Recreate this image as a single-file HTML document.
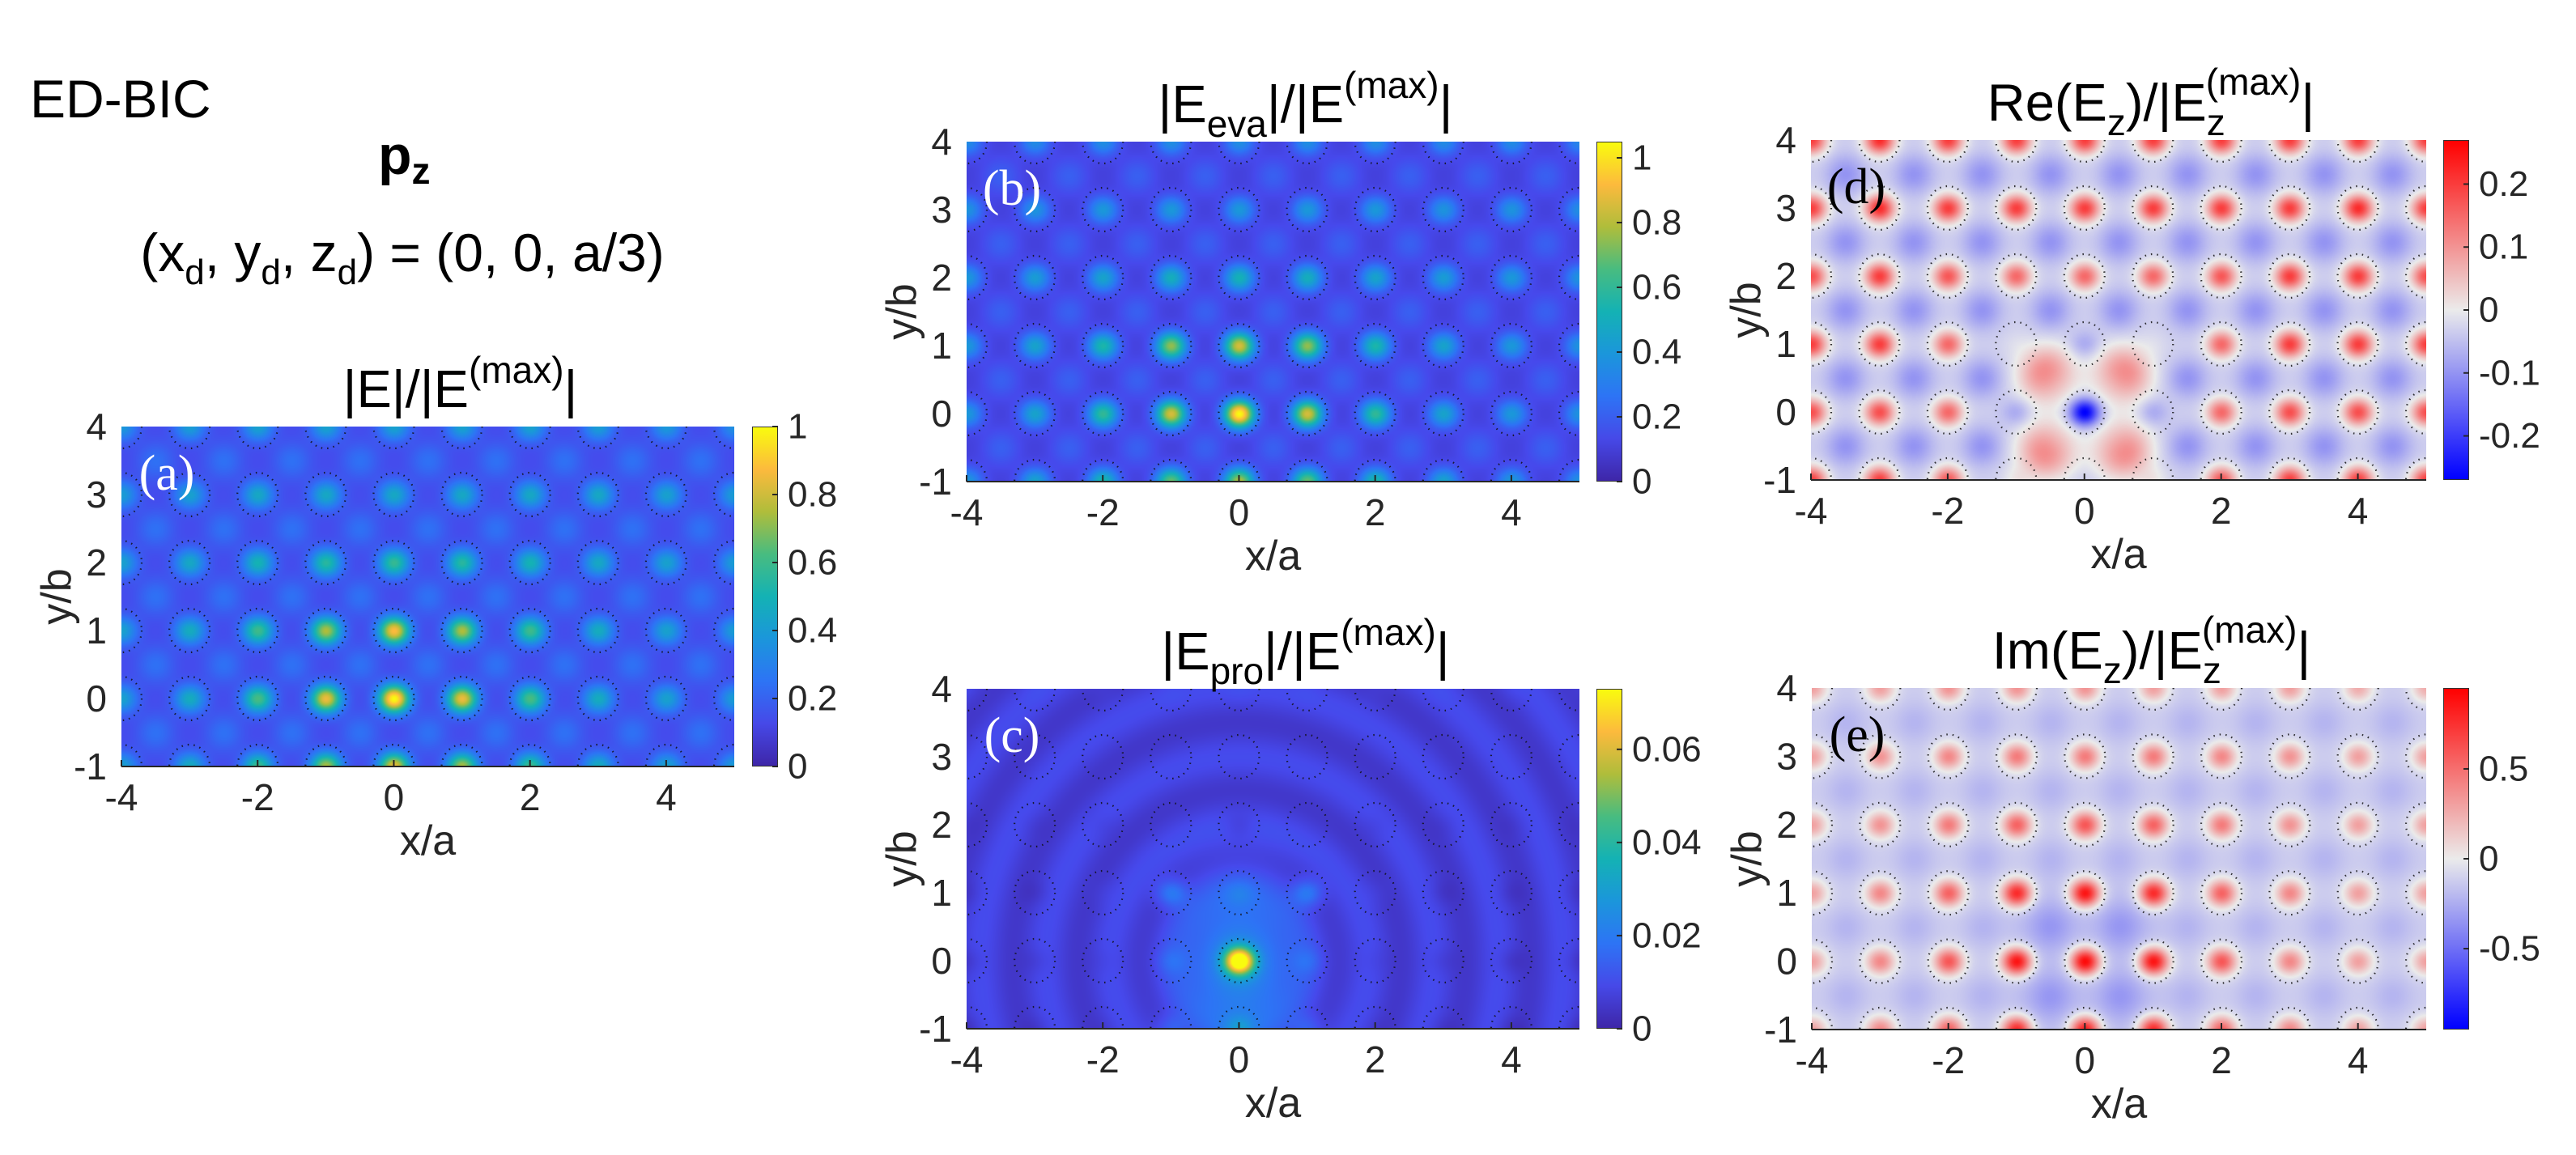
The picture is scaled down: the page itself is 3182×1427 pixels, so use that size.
<!DOCTYPE html>
<html><head><meta charset="utf-8">
<style>
html,body{margin:0;padding:0;background:#fff;}
#root{position:relative;width:3182px;height:1427px;overflow:hidden;background:#fff;font-family:"Liberation Sans","DejaVu Sans",sans-serif;}
canvas{position:absolute;}
.cb{position:absolute;border:1px solid #333;box-sizing:border-box;}
svg{position:absolute;left:0;top:0;}
</style></head>
<body>
<div id="root">
<canvas id="ca"></canvas>
<canvas id="cbb"></canvas>
<canvas id="cc"></canvas>
<canvas id="cd"></canvas>
<canvas id="ce"></canvas>
<div class="cb" style="left:929px;top:527px;width:32px;height:420px;background:linear-gradient(to top,#3E26A8,#4649E8 12.5%,#2D74F5 25%,#1B96DB 37.5%,#14B2B4 50%,#48BC80 62.5%,#AFBD3B 75%,#FCBA3D 87.5%,#F9FB0E)"></div>
<div class="cb" style="left:1972px;top:175px;width:32px;height:420px;background:linear-gradient(to top,#3E26A8,#4649E8 12.5%,#2D74F5 25%,#1B96DB 37.5%,#14B2B4 50%,#48BC80 62.5%,#AFBD3B 75%,#FCBA3D 87.5%,#F9FB0E)"></div>
<div class="cb" style="left:1972px;top:851px;width:32px;height:420px;background:linear-gradient(to top,#3E26A8,#4649E8 12.5%,#2D74F5 25%,#1B96DB 37.5%,#14B2B4 50%,#48BC80 62.5%,#AFBD3B 75%,#FCBA3D 87.5%,#F9FB0E)"></div>
<div class="cb" style="left:3018px;top:173px;width:32px;height:420px;background:linear-gradient(to top,#0000ff,#ebebeb 50%,#ff0000)"></div>
<div class="cb" style="left:3018px;top:850px;width:32px;height:422px;background:linear-gradient(to top,#0000ff,#ebebeb 50%,#ff0000)"></div>
<svg id="ov" width="3182" height="1427"></svg>
</div>
<script>
// ---- data: site amplitudes, rows y=-1..4, cols x=-4..5 ----
const xTicks=[-4,-2,0,2,4];
const yTicks=[-1,0,1,2,3,4];
const sitesA=[
[.42,.47,.6,.75,.85,.75,.6,.47,.42,.4],
[.42,.47,.62,.85,1.0,.85,.62,.47,.42,.4],
[.42,.47,.6,.75,.88,.75,.6,.47,.42,.4],
[.42,.45,.5,.55,.58,.55,.5,.45,.42,.4],
[.4,.42,.45,.45,.45,.45,.45,.45,.42,.4],
[.38,.4,.42,.42,.42,.42,.42,.4,.38,.35]];
const sitesB=[
[.4,.45,.55,.7,.8,.7,.55,.45,.4,.38],
[.4,.45,.6,.85,1.05,.85,.6,.45,.4,.38],
[.4,.45,.55,.75,.85,.75,.55,.45,.4,.38],
[.4,.42,.45,.5,.52,.5,.45,.42,.4,.38],
[.38,.38,.4,.4,.4,.4,.4,.38,.38,.36],
[.35,.35,.36,.36,.36,.36,.36,.35,.35,.33]];
const sitesC=[
[.004,.005,.006,.014,.018,.014,.006,.005,.004,.004],
[.004,.005,.006,.012,.072,.012,.006,.005,.004,.004],
[.005,.005,.008,.02,.012,.02,.008,.005,.005,.005],
[.006,.006,.006,.007,.004,.007,.006,.006,.006,.006],
[.007,.007,.007,.007,.007,.007,.007,.007,.007,.007],
[.008,.008,.008,.008,.008,.008,.008,.008,.008,.008]];
const sitesD=[
[.2,.2,.17,.0,-.04,.0,.17,.2,.2,.2],
[.18,.18,.15,-.08,-.28,-.08,.15,.18,.18,.18],
[.2,.2,.15,-.02,-.08,-.02,.15,.2,.2,.2],
[.18,.2,.17,.15,.15,.15,.17,.2,.2,.18],
[.2,.22,.2,.2,.2,.2,.2,.2,.22,.2],
[.2,.22,.2,.2,.2,.2,.2,.2,.2,.2]];
const sitesE=[
[.3,.4,.55,.8,.85,.8,.55,.4,.3,.3],
[.3,.4,.6,.9,.95,.9,.6,.4,.3,.3],
[.3,.4,.55,.8,.9,.8,.55,.4,.3,.3],
[.3,.35,.45,.55,.6,.55,.45,.35,.3,.3],
[.3,.35,.4,.45,.45,.45,.4,.35,.3,.3],
[.3,.3,.35,.35,.35,.3,.3,.3,.25,.25]];
const ticksA=[0,0.2,0.4,0.6,0.8,1], ticksB=[0,0.2,0.4,0.6,0.8,1], ticksC=[0,0.02,0.04,0.06], ticksD=[-0.2,-0.1,0,0.1,0.2], ticksE=[-0.5,0,0.5];

const panels=[
 {c:'ca',x:150,y:527,w:757,h:420,sites:sitesA,bg:.12,mid:.24,vmin:0,vmax:1,cm:'p',sig:.16,title:['|E|/|E','(max)','|'],lab:'(a)',lc:'#fff',cb:{x:929,t:ticksA}},
 {c:'cbb',x:1194,y:175,w:757,h:420,sites:sitesB,bg:.09,mid:.2,vmin:0,vmax:1.05,cm:'p',sig:.16,title:['|E','eva','|/|E','(max)','|'],lab:'(b)',lc:'#fff',cb:{x:1972,t:ticksB}},
 {c:'cc',x:1194,y:851,w:757,h:420,sites:sitesC,bg:.007,mid:.007,vmin:0,vmax:.073,cm:'p',sig:.15,title:['|E','pro','|/|E','(max)','|'],lab:'(c)',lc:'#fff',cb:{x:1972,t:ticksC},rings:true},
 {c:'cd',x:2237,y:173,w:760,h:420,sites:sitesD,bg:-.03,mid:-.1,vmin:-.27,vmax:.27,cm:'d',sig:.15,title:['Re(E','z',')/|E','z','(max)','|'],lab:'(d)',lc:'#000',cb:{x:3018,t:ticksD},lobes:.2,lsig:.26},
 {c:'ce',x:2238,y:850,w:759,h:422,sites:sitesE,bg:-.12,mid:-.22,vmin:-.95,vmax:.95,cm:'d',sig:.15,title:['Im(E','z',')/|E','z','(max)','|'],lab:'(e)',lc:'#000',cb:{x:3018,t:ticksE},lobes:-.12,lsig:.35}
];
const par=[[0,62,38,168],[.125,70,73,236],[.25,45,116,245],[.375,27,150,219],[.5,20,178,180],[.625,72,188,128],[.75,175,189,59],[.875,252,186,61],[1,249,251,14]];
function parula(t){t=Math.max(0,Math.min(1,t));for(let i=1;i<par.length;i++){if(t<=par[i][0]){const a=par[i-1],b=par[i],f=(t-a[0])/(b[0]-a[0]);return [a[1]+(b[1]-a[1])*f,a[2]+(b[2]-a[2])*f,a[3]+(b[3]-a[3])*f];}}return [249,251,14];}
function div(t){t=Math.max(0,Math.min(1,t));if(t<.5){const f=t/.5;return [0+235*f,0+235*f,255-20*f];}const f=(t-.5)/.5;return [235+20*f,235-235*f,235-235*f];}

panels.forEach(p=>{
 const cv=document.getElementById(p.c);cv.width=p.w;cv.height=p.h;cv.style.left=p.x+'px';cv.style.top=p.y+'px';
 const ctx=cv.getContext('2d'),im=ctx.createImageData(p.w,p.h),d=im.data;
 const s2=2*p.sig*p.sig, m2=2*0.2*0.2;
 for(let py=0;py<p.h;py++){const uy=4-py/p.h*5;
  for(let px=0;px<p.w;px++){const ux=-4+px/p.w*9;
   let v=p.bg;
   const ix=Math.round(ux),iy=Math.round(uy);
   for(let dx=-1;dx<=1;dx++)for(let dy=-1;dy<=1;dy++){
     const sx=ix+dx,sy=iy+dy;
     if(sx>=-4&&sx<=5&&sy>=-1&&sy<=4){const r2=(ux-sx)**2+((uy-sy)*1.1)**2;v+=(p.sites[sy+1][sx+4]-p.bg)*Math.exp(-r2/s2);}
     const mx=Math.floor(ux)+0.5+dx,my=Math.floor(uy)+0.5+dy;
     const q2=(ux-mx)**2+(uy-my)**2;v+=(p.mid-p.bg)*Math.exp(-q2/m2);
   }
   if(p.rings){const r=Math.sqrt(ux*ux+uy*uy*0.9);v+=0.017*Math.exp(-(ux*ux/0.7+(uy+0.1)*(uy+0.1)/1.6))+0.0025*Math.cos(r*2*Math.PI/0.95)*Math.min(1,r/1.2);}
   if(p.lobes){const ls=2*p.lsig*p.lsig;for(const [lx,ly] of [[-.55,.55],[.55,.55],[-.55,-.55],[.55,-.55]]){v+=p.lobes*Math.exp(-((ux-lx)**2+(uy-ly)**2)/ls);}}
   const t=(v-p.vmin)/(p.vmax-p.vmin);
   const c=p.cm==='p'?parula(t):div(t);const k=(py*p.w+px)*4;
   d[k]=c[0];d[k+1]=c[1];d[k+2]=c[2];d[k+3]=255;
  }}
 ctx.putImageData(im,0,0);
});

const NS='http://www.w3.org/2000/svg',ov=document.getElementById('ov');
function mk(tag,at,parent){const e=document.createElementNS(NS,tag);for(const k in at)e.setAttribute(k,at[k]);(parent||ov).appendChild(e);return e;}
function txt(x,y,s,size,extra){const t=mk('text',Object.assign({x:x,y:y,'font-size':size,'text-anchor':'middle','dominant-baseline':'central',fill:'#262626','font-family':'Liberation Sans, DejaVu Sans, sans-serif'},extra||{}));t.textContent=s;return t;}

panels.forEach((p,pi)=>{
 const sx=v=>p.x+(v+4)/9*p.w, sy=v=>p.y+(4-v)/5*p.h;
 const g=mk('g',{});
 
 
 const cp=mk('clipPath',{id:'cl'+pi},g);mk('rect',{x:p.x,y:p.y,width:p.w,height:p.h},cp);
 const cg=mk('g',{'clip-path':'url(#cl'+pi+')'},g);
 for(let yy=-1;yy<=4;yy++)for(let xx=-4;xx<=5;xx++){
  const c=mk('ellipse',{cx:sx(xx),cy:sy(yy),rx:25,ry:27,fill:'none',stroke:'#111','stroke-width':2.2,'stroke-dasharray':'1.5 6','stroke-opacity':.85},cg);
  
  
 }
 mk('line',{x1:p.x,y1:p.y+p.h,x2:p.x+p.w,y2:p.y+p.h,stroke:'#262626','stroke-width':2},g);
 xTicks.forEach(v=>{mk('line',{x1:sx(v),y1:p.y+p.h,x2:sx(v),y2:p.y+p.h-8,stroke:'#262626','stroke-width':2},g);const t=txt(sx(v),p.y+p.h+38,(v<0?'-':'')+Math.abs(v),46);});
 yTicks.forEach(v=>{const t=txt(p.x-18,sy(v),(v<0?'-':'')+Math.abs(v),46,{'text-anchor':'end'});});
 const xl=txt(p.x+p.w/2,p.y+p.h+92,'x/a',52);
 const yl=txt(0,0,'y/b',52,{transform:'translate('+(p.x-80)+','+(p.y+p.h/2)+') rotate(-90)'});
 const lb=txt(p.x+56,p.y+58,p.lab,62,{fill:p.lc,'font-family':'Liberation Serif, serif'});
 // title
 const tt=mk('text',{x:p.x+p.w/2+40,y:p.y-24,'font-size':65,'text-anchor':'middle',fill:'#000','font-family':'Liberation Sans, DejaVu Sans, sans-serif'});
 
 const parts=p.title;
 if(parts.length===3){mk('tspan',{},tt).textContent=parts[0];mk('tspan',{dy:-30,'font-size':46},tt).textContent=parts[1];mk('tspan',{dy:30},tt).textContent=parts[2];}
 else if(parts.length===5){mk('tspan',{},tt).textContent=parts[0];mk('tspan',{dy:18,'font-size':46},tt).textContent=parts[1];mk('tspan',{dy:-18},tt).textContent=parts[2];mk('tspan',{dy:-30,'font-size':46},tt).textContent=parts[3];mk('tspan',{dy:30},tt).textContent=parts[4];}
 else {mk('tspan',{},tt).textContent=parts[0];mk('tspan',{dy:18,'font-size':46},tt).textContent=parts[1];mk('tspan',{dy:-18},tt).textContent=parts[2];mk('tspan',{dy:18,'font-size':46},tt).textContent=parts[3];mk('tspan',{dy:-50,dx:-24,'font-size':46},tt).textContent=parts[4];mk('tspan',{dy:32},tt).textContent=parts[5];}
 // colorbar ticks
 const cbTop=p.y, cbH=p.h;
 p.cb.t.forEach(v=>{const yy=cbTop+cbH-(v-p.vmin)/(p.vmax-p.vmin)*cbH;mk('line',{x1:p.cb.x+32,y1:yy,x2:p.cb.x+25,y2:yy,stroke:'#262626','stroke-width':2},g);const t=txt(p.cb.x+44,yy,(v<0?'-':'')+String(Math.abs(v)),44,{'text-anchor':'start'});});
});
const h1=txt(37,122,'ED-BIC',66,{'text-anchor':'start',fill:'#000'});
const h2=mk('text',{x:467,y:215,'font-size':68,'font-weight':'bold',fill:'#000','font-family':'Liberation Sans, DejaVu Sans, sans-serif'});
mk('tspan',{},h2).textContent='p';mk('tspan',{dy:12,'font-size':46},h2).textContent='z';
const h3=mk('text',{x:497,y:335,'font-size':66,'text-anchor':'middle',fill:'#000','font-family':'Liberation Sans, DejaVu Sans, sans-serif'});
[['(x',0],['d',1],[', y',0],['d',1],[', z',0],['d',1],[') = (0, 0, a/3)',0]].forEach(([s,sub],i,arr)=>{const prev=i>0?arr[i-1][1]:0;const dy=(sub&&!prev)?16:(!sub&&prev)?-16:0;const t=mk('tspan',{dy:dy,'font-size':sub?44:66},h3);t.textContent=s;});
</script>
</body></html>
